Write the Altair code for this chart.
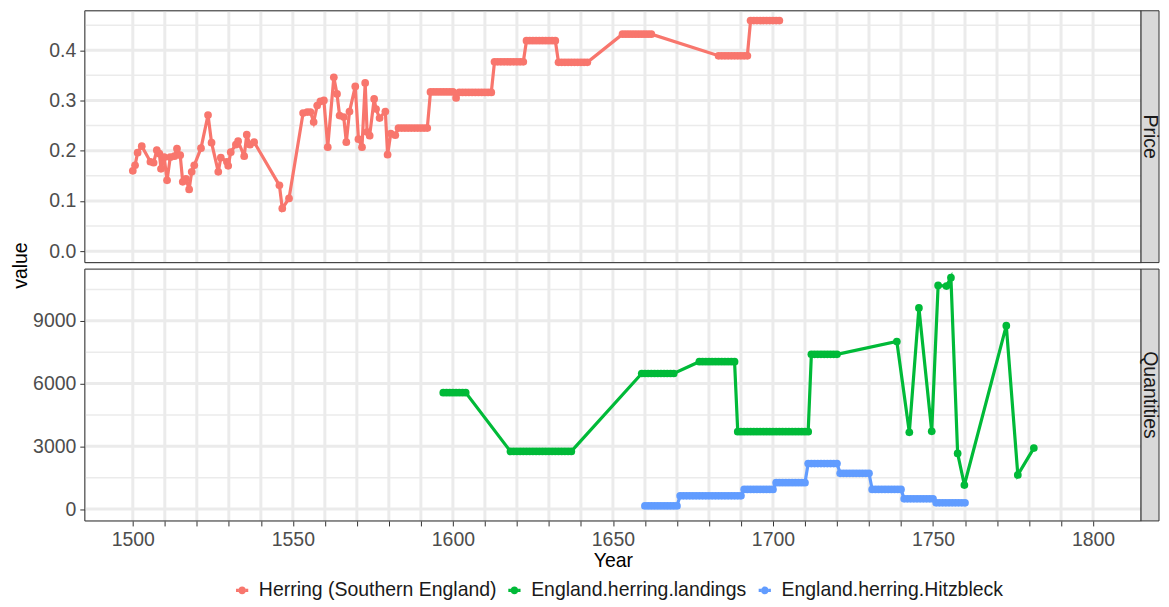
import altair as alt
import pandas as pd

# ---------------- data ----------------
SERIES = ["Herring (Southern England)", "England.herring.landings", "England.herring.Hitzbleck"]
COLORS = ["#F8766D", "#00BA38", "#619CFF"]

# Price: irregular early observations
PRICE_YEARS = [1500.0, 1500.7, 1501.5, 1502.8, 1505.5, 1506.5, 1507.5, 1508.3, 1508.8, 1509.8,
               1510.7, 1511.7, 1513.0, 1513.8, 1514.8, 1515.6, 1516.6, 1517.6, 1518.4, 1519.2,
               1521.3, 1523.5, 1524.6, 1526.7, 1527.5, 1529.4, 1529.8, 1530.6, 1532.2, 1532.9,
               1534.8, 1535.6, 1536.6, 1537.9, 1545.8, 1546.7, 1548.8,
               1553.2, 1554.5, 1555.5, 1556.5, 1557.6, 1558.6, 1559.7, 1560.9, 1562.8, 1563.8,
               1564.6, 1565.9, 1566.7, 1567.7, 1569.5, 1570.5, 1571.6, 1572.6, 1573.2, 1574.0,
               1575.4, 1576.0, 1577.1, 1578.9, 1579.6, 1580.6, 1582.0]
PRICE_VALUES = [0.160, 0.171, 0.196, 0.209, 0.178, 0.176, 0.201, 0.194, 0.164, 0.187,
                0.141, 0.187, 0.189, 0.204, 0.191, 0.138, 0.144, 0.123, 0.158, 0.171,
                0.205, 0.271, 0.216, 0.158, 0.186, 0.178, 0.170, 0.197, 0.212, 0.219,
                0.189, 0.232, 0.212, 0.217, 0.131, 0.085, 0.105,
                0.275, 0.277, 0.277, 0.257, 0.290, 0.298, 0.300, 0.207, 0.346, 0.313,
                0.270, 0.267, 0.217, 0.278, 0.328, 0.223, 0.207, 0.335, 0.237, 0.230,
                0.303, 0.283, 0.265, 0.278, 0.192, 0.234, 0.231]
# Price: yearly plateaus (first year, last year, value)
PRICE_STEP_START = [1583, 1593, 1601, 1602, 1613, 1623, 1633, 1653, 1683, 1693]
PRICE_STEP_END = [1592, 1600, 1601, 1612, 1622, 1632, 1642, 1662, 1692, 1702]
PRICE_STEP_VALUE = [0.245, 0.317, 0.305, 0.316, 0.377, 0.419, 0.376, 0.432, 0.389, 0.459]

# Landings: yearly plateaus, then irregular observations
LAND_STEP_START = [1597, 1618, 1659, 1677, 1689, 1712]
LAND_STEP_END = [1604, 1637, 1669, 1688, 1711, 1720]
LAND_STEP_VALUE = [5566, 2754, 6482, 7046, 3700, 7399]
LAND_YEARS = [1738.7, 1742.6, 1745.6, 1749.6, 1751.6, 1754.2, 1755.6, 1757.7, 1759.8,
              1772.9, 1776.5, 1781.5]
LAND_VALUES = [8011, 3670, 9617, 3719, 10697, 10664, 11064, 2657, 1148, 8768, 1630, 2913]

# Hitzbleck: yearly plateaus
HITZ_STEP_START = [1660, 1671, 1691, 1701, 1711, 1721, 1731, 1741, 1751]
HITZ_STEP_END = [1670, 1690, 1700, 1710, 1720, 1730, 1740, 1750, 1760]
HITZ_STEP_VALUE = [150, 632, 936, 1259, 2175, 1708, 936, 487, 294]

X_TICKS = list(range(1500, 1801, 10))
PRICE_MAJOR = [0.0, 0.1, 0.2, 0.3, 0.4]
PRICE_MINOR = [0.05, 0.15, 0.25, 0.35, 0.45]
QTY_MAJOR = [0, 3000, 6000, 9000]
QTY_MINOR = [1500, 4500, 7500, 10500]
X_DOMAIN = [1485, 1815]
PRICE_DOMAIN = [-0.0228, 0.4786]
QTY_DOMAIN = [-570, 11476]

# ---------------- tables ----------------
def steps(starts, ends, vals):
    ys, vs = [], []
    for s, e, v in zip(starts, ends, vals):
        for y in range(s, e + 1):
            ys.append(y)
            vs.append(v)
    return ys, vs

py, pv = steps(PRICE_STEP_START, PRICE_STEP_END, PRICE_STEP_VALUE)
price = pd.DataFrame({"year": PRICE_YEARS + py, "value": PRICE_VALUES + pv, "series": SERIES[0]})
ly, lv = steps(LAND_STEP_START, LAND_STEP_END, LAND_STEP_VALUE)
land = pd.DataFrame({"year": ly + LAND_YEARS, "value": lv + LAND_VALUES, "series": SERIES[1]})
hy, hv = steps(HITZ_STEP_START, HITZ_STEP_END, HITZ_STEP_VALUE)
hitz = pd.DataFrame({"year": hy, "value": hv, "series": SERIES[2]})
qty = pd.concat([land, hitz], ignore_index=True)

FONT = "Liberation Sans"
FS = 19.5
W = 1059
H = 252.5
STRIP = 18
GRID = "#EBEBEB"
DARK = "#333333"

SYMBOL = ("M-1,-0.25L-0.6,-0.25L-0.6,0.25L-1,0.25Z "
          "M0.6,-0.25L1,-0.25L1,0.25L0.6,0.25Z "
          "M-0.62,0A0.62,0.62 0 1,0 0.62,0A0.62,0.62 0 1,0 -0.62,0Z")

color_scale = alt.Scale(domain=SERIES, range=COLORS)
legend = alt.Legend(title=None, orient="none", legendX=148, legendY=571, direction="horizontal",
                    symbolType=SYMBOL, symbolSize=150, symbolStrokeWidth=0, symbolOpacity=1,
                    labelFont=FONT, labelFontSize=FS, labelColor="#1A1A1A", labelLimit=500,
                    labelOffset=7, columnPadding=8, padding=0)

one = pd.DataFrame({"k": [0]})


def panel(df, ydomain, major, minor, fmt, strip_label, bottom, extra=None):
    xscale = alt.Scale(domain=X_DOMAIN, nice=False, zero=False)
    yscale = alt.Scale(domain=ydomain, nice=False, zero=False)
    if bottom:
        xaxis = alt.Axis(values=X_TICKS, format="d", labelExpr="datum.value % 50 === 0 ? datum.label : ''",
                         grid=False, domain=False, tickColor=DARK, tickSize=5, tickWidth=1,
                         labelColor="#4D4D4D", labelFont=FONT, labelFontSize=FS, labelPadding=5,
                         labelOverlap=False, labelFlush=False,
                         title="Year", titleFont=FONT, titleFontSize=FS, titleFontWeight="normal",
                         titleColor="#000000", titlePadding=2)
    else:
        xaxis = None
    yaxis = alt.Axis(values=major, format=fmt, grid=False, domain=False, tickColor=DARK, tickSize=5,
                     labelColor="#4D4D4D", labelFont=FONT, labelFontSize=FS, labelPadding=4,
                     labelOverlap=False, labelFlush=False, title=None)

    vgrid = alt.Chart(pd.DataFrame({"year": X_TICKS})).mark_rule(color=GRID, strokeWidth=3).encode(
        x=alt.X("year:Q", scale=xscale, axis=xaxis))
    hminor = alt.Chart(pd.DataFrame({"v": minor})).mark_rule(color=GRID, strokeWidth=1.5).encode(
        y=alt.Y("v:Q", scale=yscale, axis=yaxis))
    hmajor = alt.Chart(pd.DataFrame({"v": major})).mark_rule(color=GRID, strokeWidth=3).encode(
        y=alt.Y("v:Q", scale=yscale, axis=yaxis))
    enc = dict(x=alt.X("year:Q", scale=xscale, axis=xaxis),
               y=alt.Y("value:Q", scale=yscale, axis=yaxis),
               color=alt.Color("series:N", scale=color_scale, legend=legend))
    lines = alt.Chart(df).mark_line(strokeWidth=3.2).encode(detail="series:N", order="year:Q", **enc)
    points = alt.Chart(df).mark_point(filled=True, size=60, opacity=1).encode(**enc)
    border = alt.Chart(one).mark_rect(fill=None, stroke=DARK, strokeWidth=1).encode(
        x=alt.value(0), x2=alt.value(W), y=alt.value(0), y2=alt.value(H))
    strip = alt.Chart(one).mark_rect(fill="#D9D9D9", stroke=DARK, strokeWidth=1).encode(
        x=alt.value(W), x2=alt.value(W + STRIP), y=alt.value(0), y2=alt.value(H))
    strip_text = alt.Chart(one).mark_text(angle=90, font=FONT, fontSize=FS, color="#1A1A1A",
                                          align="center", baseline="middle").encode(
        x=alt.value(W + STRIP / 2), y=alt.value(H / 2), text=alt.value(strip_label))
    layers = [vgrid, hminor, hmajor, lines, points, border, strip, strip_text]
    if extra is not None:
        layers.append(extra)
    return alt.layer(*layers).properties(width=W, height=H)


ytitle = alt.Chart(one).mark_text(angle=270, font=FONT, fontSize=FS, color="#000000",
                                  align="center", baseline="middle").encode(
    x=alt.value(-64), y=alt.value(H + 3), text=alt.value("value"))

top = panel(price, PRICE_DOMAIN, PRICE_MAJOR, PRICE_MINOR, ".1f", "Price", False, ytitle)
bottom = panel(qty, QTY_DOMAIN, QTY_MAJOR, QTY_MINOR, "d", "Quantities", True)

chart = alt.vconcat(top, bottom, spacing=6, bounds="flush").resolve_scale(
    color="shared", x="independent", y="independent"
).properties(padding={"left": 2, "top": 0, "right": 0, "bottom": 0}).configure_view(
    stroke=None
).configure(background="white")

chart.save("out.html", embed_options={"renderer": "svg", "actions": False})
